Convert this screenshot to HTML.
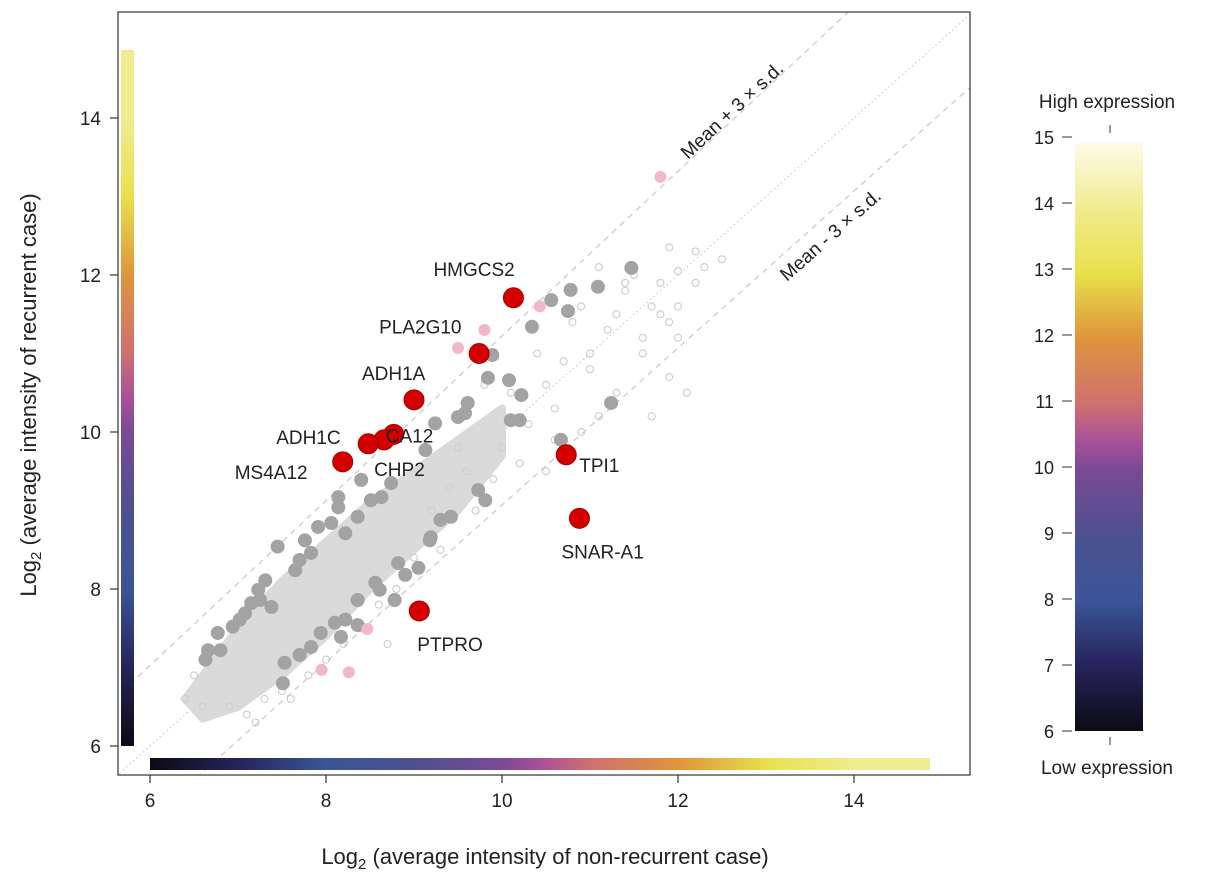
<!DOCTYPE html>
<html><head><meta charset="utf-8">
<style>
html,body{margin:0;padding:0;background:#fff;}
svg{display:block;font-family:"Liberation Sans",Arial,sans-serif;}
</style></head>
<body>
<svg id="chart" width="1205" height="881" viewBox="0 0 1205 881" xmlns="http://www.w3.org/2000/svg">
<defs>
<linearGradient id="gv" x1="0" y1="1" x2="0" y2="0"></linearGradient>
<linearGradient id="gh" x1="0" y1="0" x2="1" y2="0"></linearGradient>
<linearGradient id="gr" x1="0" y1="1" x2="0" y2="0"></linearGradient>
<clipPath id="clip"><rect x="118" y="12" width="852" height="763"/></clipPath>
</defs>
<g id="plot" clip-path="url(#clip)"></g>
<rect x="118" y="12" width="852" height="763" fill="none" stroke="#333" stroke-width="1.2"/>
<g id="axes"></g>
<text x="0" y="0" transform="translate(36,395) rotate(-90)" text-anchor="middle" font-size="22" fill="#222">Log<tspan font-size="15" dy="5">2</tspan><tspan dy="-5"> (average intensity of recurrent case)</tspan></text>
<text x="545" y="864" text-anchor="middle" font-size="22" fill="#222">Log<tspan font-size="15" dy="5">2</tspan><tspan dy="-5"> (average intensity of non-recurrent case)</tspan></text>
<g id="cbar"></g>
</svg>
<script>
// ---- data ----
const xTicks=[6,8,10,12,14];
const yTicks=[6,8,10,12,14];
const cbTicks=[6,7,8,9,10,11,12,13,14,15];
const bandX=[6.4,7.0,7.5,8.0,8.5,9.0,9.5,10.0,10.0,9.5,9.0,8.5,8.0,7.5,7.0,6.6];
const bandY=[6.6,7.5,8.1,8.6,9.1,9.5,9.9,10.3,9.7,9.0,8.5,8.0,7.4,6.9,6.5,6.35];
const openX=[11.5,11.9,12.0,12.2,12.3,11.7,11.9,12.0,11.4,11.8,11.2,11.0,11.6,11.9,12.1,11.7,11.3,11.0,10.9,10.5,10.6,10.4,10.8,10.3,10.0,10.2,9.9,9.6,9.7,9.4,9.3,9.0,8.8,8.6,8.4,8.2,8.0,7.8,7.5,7.3,7.1,6.9,6.6,6.4,6.5,6.7,10.7,11.1,12.5,11.3,11.6,10.9,10.5,10.1,10.6,9.2,9.5,12.0,11.8,12.2,11.1,11.4,7.2,7.6,8.7,9.8];
const openY=[12.0,12.35,12.05,11.9,12.1,11.6,11.4,11.6,11.8,11.5,11.3,11.0,11.2,10.7,10.5,10.2,10.5,10.8,10.0,10.6,10.3,11.0,11.4,10.1,9.8,9.6,9.4,9.5,9.0,9.3,8.5,8.4,8.0,7.8,7.5,7.3,7.1,6.9,6.7,6.6,6.4,6.5,6.5,6.6,6.9,7.2,10.9,10.2,12.2,11.5,11.0,11.6,9.5,10.5,9.9,9.0,9.8,11.2,11.9,12.3,12.1,11.9,6.3,6.6,7.3,10.6];
const grayX=[11.24,10.10,10.67,9.58,9.73,9.81,9.42,9.19,8.82,9.05,8.56,8.36,8.10,8.17,7.94,7.83,7.53,7.45,7.76,7.83,7.23,7.15,7.08,6.77,6.66,6.94,7.38,7.65,7.91,8.06,8.22,8.36,8.51,8.63,8.14,8.14,8.40,8.74,9.13,9.24,9.50,10.78,10.56,11.09,11.47,10.75,10.34,9.89,9.84,10.08,9.61,10.22,10.20,7.70,7.31,7.02,7.25,6.80,6.63,9.30,9.18,8.90,8.61,8.78,8.36,8.22,7.70,7.51];
const grayY=[10.37,10.15,9.90,10.24,9.26,9.13,8.92,8.66,8.33,8.27,8.08,7.86,7.57,7.39,7.44,7.26,7.06,8.54,8.62,8.46,7.99,7.82,7.69,7.44,7.22,7.52,7.77,8.24,8.79,8.84,8.71,8.92,9.13,9.17,9.17,9.04,9.39,9.35,9.77,10.11,10.19,11.81,11.68,11.85,12.09,11.54,11.34,10.98,10.69,10.66,10.37,10.47,10.15,8.37,8.11,7.61,7.86,7.22,7.10,8.88,8.62,8.18,7.99,7.86,7.54,7.61,7.16,6.80];
const pinkX=[11.8,10.43,9.8,9.5,8.47,7.95,8.26];
const pinkY=[13.25,11.6,11.3,11.07,7.49,6.97,6.94];
const geneNames=["HMGCS2","PLA2G10","ADH1A","CA12","CHP2","ADH1C","MS4A12","TPI1","SNAR-A1","PTPRO"];
const geneX=[10.13,9.74,9.0,8.77,8.66,8.48,8.19,10.73,10.88,9.06];
const geneY=[11.71,11.0,10.41,9.97,9.9,9.85,9.62,9.71,8.9,7.72];
const lineUpperX=[5.5,15.6], lineUpperY=[6.5,17.1];
const lineLowerX=[5.5,15.6], lineLowerY=[4.57,14.67];
const cmapV=[6,7,8,9,10,10.4,11,12,13,14,15];
const cmapC=["#0b0b14","#26235a","#3a5598","#4d5090","#7a4a94","#a54f9a","#cf7070","#df943c","#e8e04a","#f0ec90","#fdfbe8"];

// ---- scales ----
const X=v=>150+(v-6)*88;
const Y=v=>746-(v-6)*78.5;
const CB=v=>731-(v-6)*66;
const NS="http://www.w3.org/2000/svg";
function mk(tag,attrs,parent){const e=document.createElementNS(NS,tag);for(const k in attrs)e.setAttribute(k,attrs[k]);parent.appendChild(e);return e;}
const plot=document.getElementById('plot'),axes=document.getElementById('axes'),cbar=document.getElementById('cbar');

function fillGrad(id,v0,v1){const g=document.getElementById(id);cmapV.forEach((v,i)=>{const o=(v-v0)/(v1-v0);if(o<0||o>1)return;mk('stop',{offset:o,'stop-color':cmapC[i]},g);});}
fillGrad('gv',6,14.87);fillGrad('gh',6,14.86);fillGrad('gr',6,15);

let l=mk('line',{x1:X(5.5),y1:Y(5.5),x2:X(15.6),y2:Y(15.6),stroke:'#ccc','stroke-width':1.2,'stroke-dasharray':'1.5,3'},plot);

l=mk('line',{x1:X(lineUpperX[0]),y1:Y(lineUpperY[0]),x2:X(lineUpperX[1]),y2:Y(lineUpperY[1]),stroke:'#ccc','stroke-width':1.3,'stroke-dasharray':'6,5'},plot);

l=mk('line',{x1:X(lineLowerX[0]),y1:Y(lineLowerY[0]),x2:X(lineLowerX[1]),y2:Y(lineLowerY[1]),stroke:'#ccc','stroke-width':1.3,'stroke-dasharray':'6,5'},plot);


const band=mk('polygon',{points:bandX.map((v,i)=>X(v)+','+Y(bandY[i])).join(' '),fill:'#dadada',stroke:'#dadada','stroke-width':8,'stroke-linejoin':'round'},plot);


openX.forEach((v,i)=>{const c=mk('circle',{cx:X(v),cy:Y(openY[i]),r:3.5,fill:'none',stroke:'#cfcfcf','stroke-width':1.2},plot);
});
grayX.forEach((v,i)=>{const c=mk('circle',{cx:X(v),cy:Y(grayY[i]),r:7,fill:'#a3a3a3'},plot);
});
pinkX.forEach((v,i)=>{const c=mk('circle',{cx:X(v),cy:Y(pinkY[i]),r:6,fill:'#f2b8c8'},plot);
});
geneX.forEach((v,i)=>{const c=mk('circle',{cx:X(v),cy:Y(geneY[i]),r:10,fill:'#d40000',stroke:'#a00000','stroke-width':1},plot);
});

const lab={"HMGCS2":[-80,-22],"PLA2G10":[-100,-20],"ADH1A":[-52,-20],"CA12":[-8,8],"CHP2":[-10,36],"ADH1C":[-92,0],"MS4A12":[-108,17],"TPI1":[13,17],"SNAR-A1":[-18,40],"PTPRO":[-2,40]};
geneNames.forEach((n,i)=>{const o=lab[n];const t=mk('text',{x:X(geneX[i])+o[0],y:Y(geneY[i])+o[1],'font-size':19,fill:'#222'},plot);t.textContent=n;
});

let t=mk('text',{x:0,y:0,transform:'translate(688,160) rotate(-43)','font-size':19,fill:'#222'},plot);t.textContent='Mean + 3 × s.d.';

t=mk('text',{x:0,y:0,transform:'translate(787,282) rotate(-41.5)','font-size':19,fill:'#222'},plot);t.textContent='Mean - 3 × s.d.';


let r=mk('rect',{x:121,y:50,width:13,height:696,fill:'url(#gv)'},plot);

r=mk('rect',{x:150,y:758,width:780,height:12,fill:'url(#gh)'},plot);


xTicks.forEach(v=>{mk('line',{x1:X(v),y1:775,x2:X(v),y2:783,stroke:'#333','stroke-width':1.2},axes);
const tx=mk('text',{x:X(v),y:807,'font-size':19,fill:'#222','text-anchor':'middle'},axes);tx.textContent=v;
});
yTicks.forEach(v=>{mk('line',{x1:110,y1:Y(v),x2:118,y2:Y(v),stroke:'#333','stroke-width':1.2},axes);
const tx=mk('text',{x:101,y:Y(v)+7,'font-size':19,fill:'#222','text-anchor':'end'},axes);tx.textContent=v;
});

r=mk('rect',{x:1075,y:CB(15)+6,width:68,height:CB(6)-CB(15)-6,fill:'url(#gr)'},cbar);

cbTicks.forEach(v=>{mk('line',{x1:1062,y1:CB(v),x2:1072,y2:CB(v),stroke:'#333','stroke-width':1},cbar);
const tx=mk('text',{x:1054,y:CB(v)+7,'font-size':18,fill:'#222','text-anchor':'end'},cbar);tx.textContent=v;
});
mk('line',{x1:1110,y1:125,x2:1110,y2:133,stroke:'#333','stroke-width':1},cbar);
mk('line',{x1:1110,y1:737,x2:1110,y2:745,stroke:'#333','stroke-width':1},cbar);
t=mk('text',{x:1107,y:108,'font-size':19,fill:'#222','text-anchor':'middle'},cbar);t.textContent='High expression';

t=mk('text',{x:1107,y:774,'font-size':19,fill:'#222','text-anchor':'middle'},cbar);t.textContent='Low expression';

</script>
</body></html>
